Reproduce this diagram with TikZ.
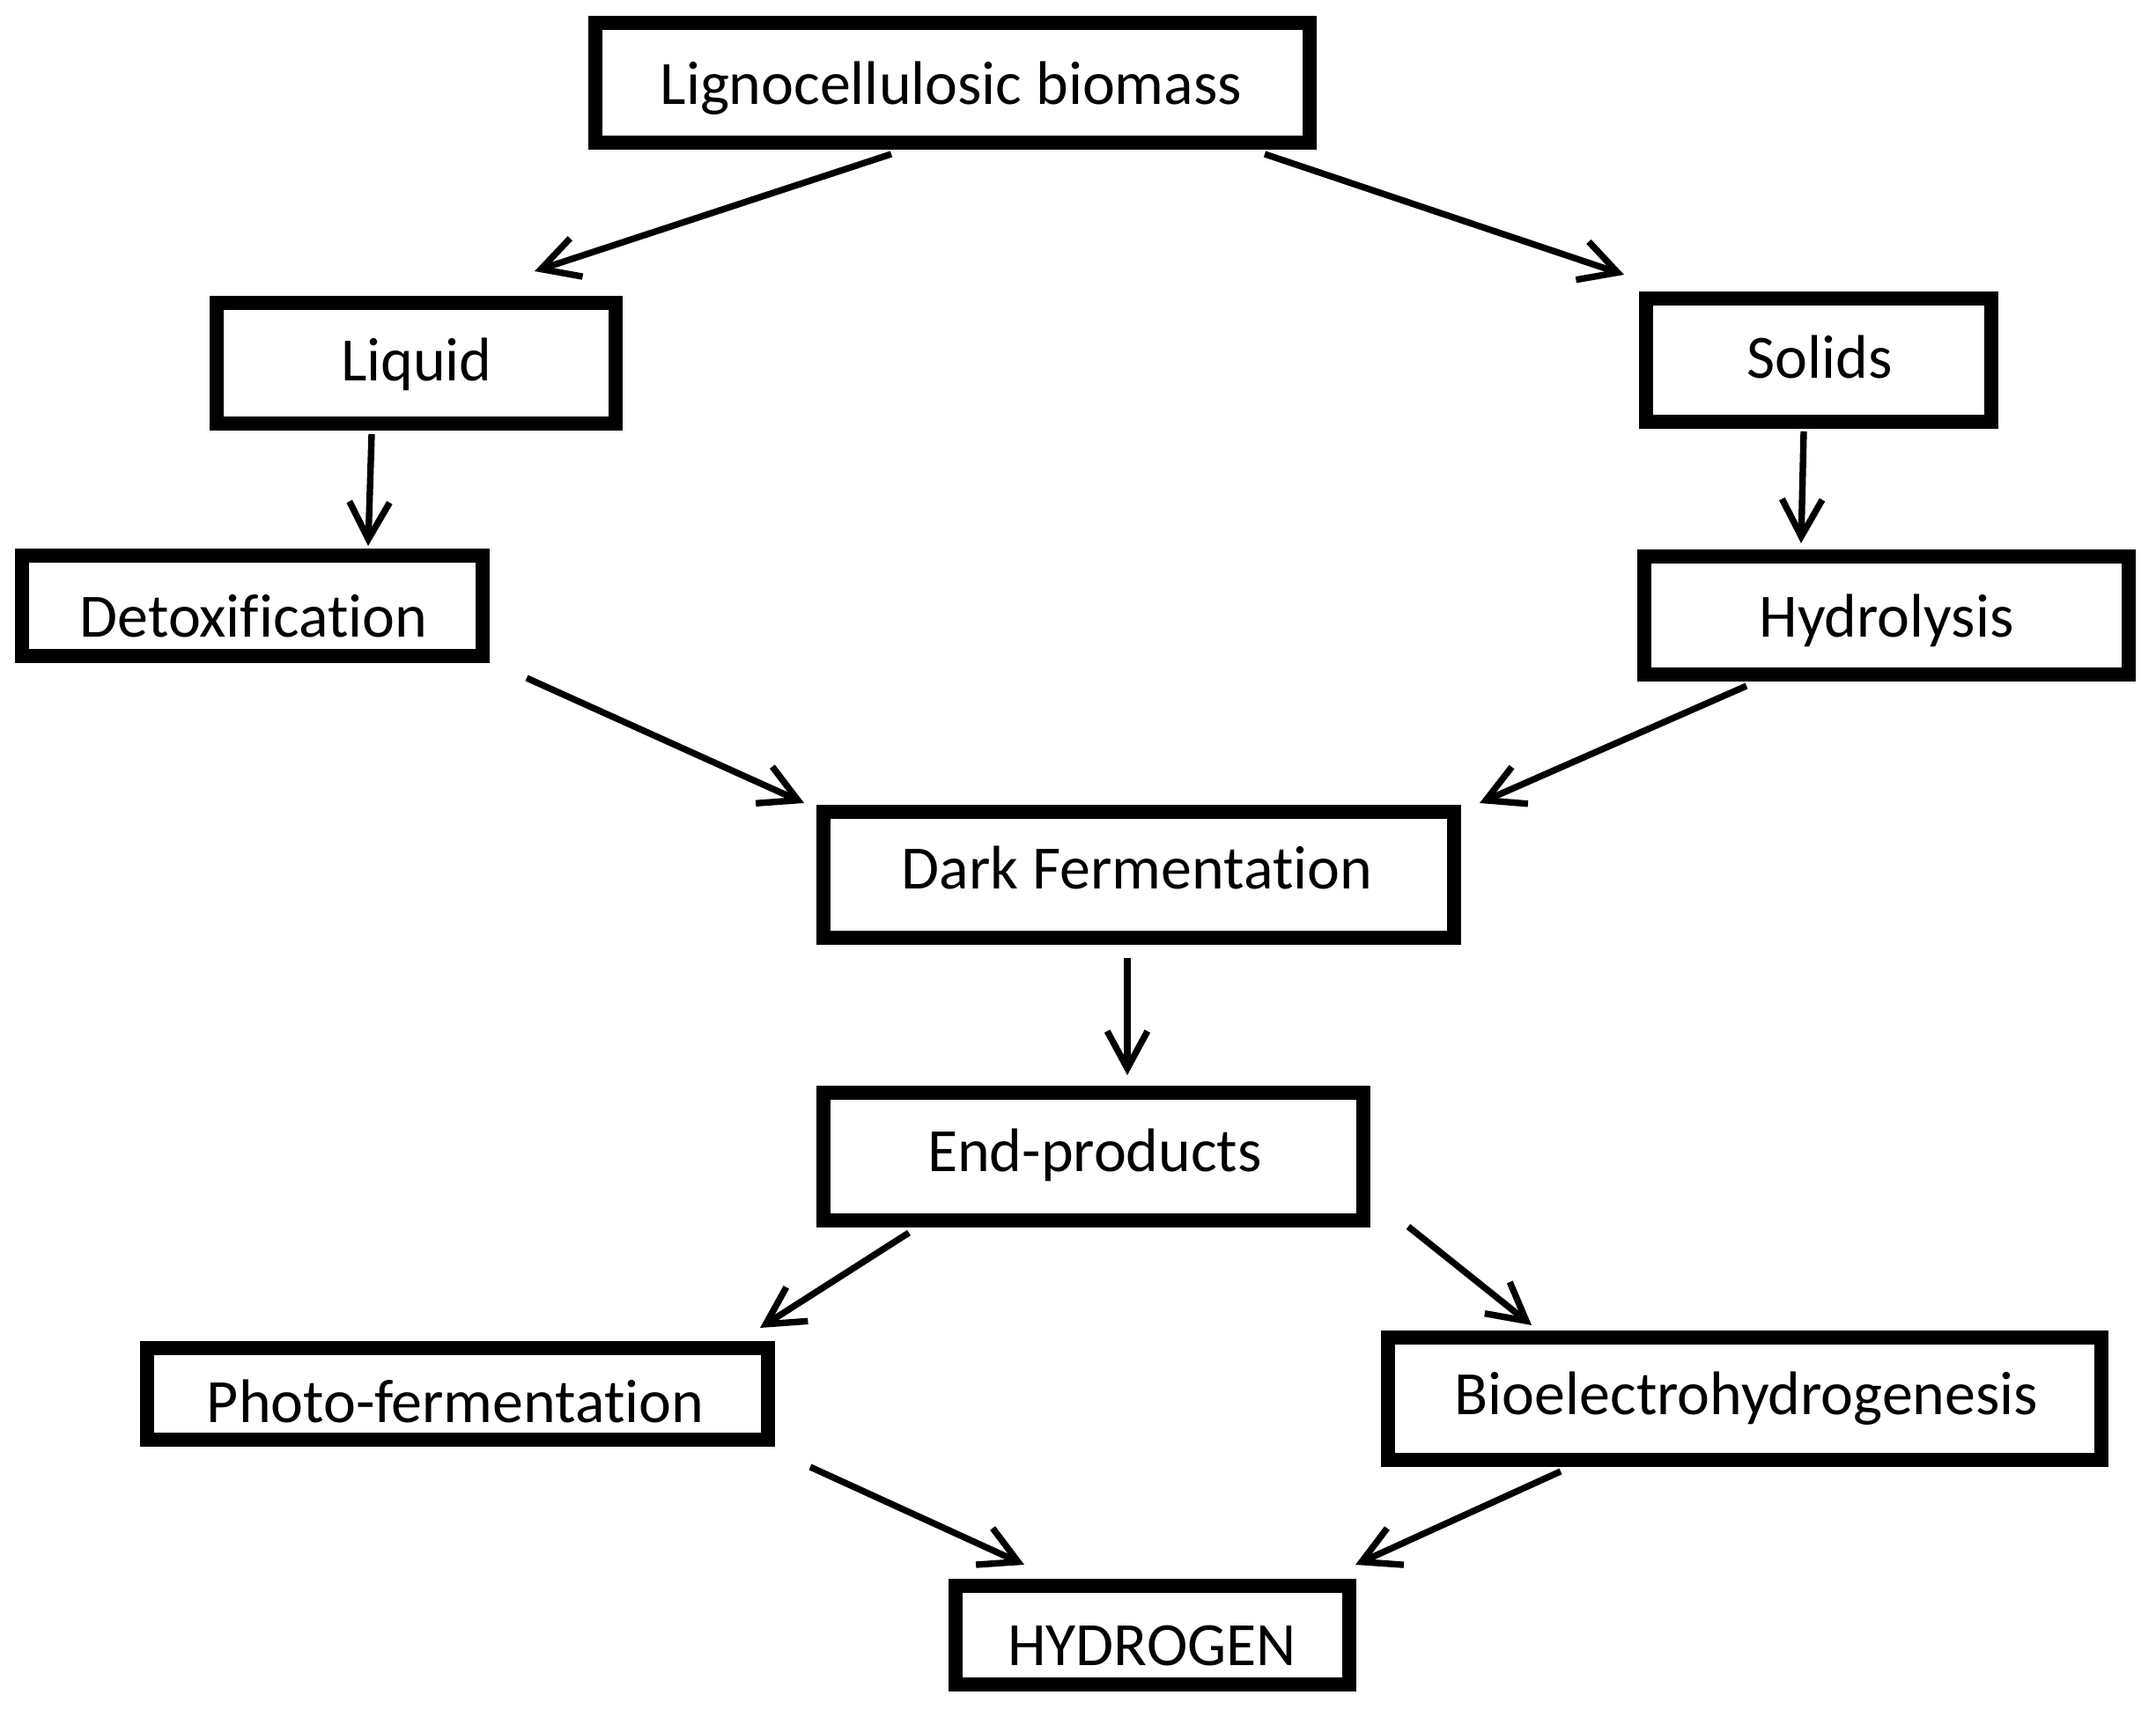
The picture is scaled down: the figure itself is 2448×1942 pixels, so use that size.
\documentclass[tikz,border=0pt]{standalone}
\usepackage{fontspec}
\setmainfont{Carlito}[Ligatures={NoCommon,NoContextual}]
\usetikzlibrary{arrows.meta}
\begin{document}
\begin{tikzpicture}[x=0.1mm,y=-0.1mm,
  box/.style={draw=black, line width=4.3pt, rectangle, inner sep=0pt, fill=white},
  lbl/.style={anchor=base, inner sep=0pt, font=\fontsize{19.9}{24}\selectfont},
  flow/.style={line width=2.1pt, -{Straight Barb[length=12pt,width=13pt]}}]
\useasboundingbox[fill=white] (0,0) rectangle (2448,1942);
% boxes
\node[box, minimum width=81.1mm, minimum height=13.6mm] (lig) at (1081.5,94) {};
\node[lbl] (ligT) at (1080,119) {Lignocellulosic biomass};
\node[box, minimum width=45.3mm, minimum height=13.7mm] (liq) at (472.5,412.5) {};
\node[lbl] (liqT) at (473,433) {Liquid};
\node[box, minimum width=39.2mm, minimum height=14.0mm] (sol) at (2065,409) {};
\node[lbl] (solT) at (2066,430) {Solids};
\node[box, minimum width=52.3mm, minimum height=11.4mm] (det) at (286.5,688) {};
\node[lbl] (detT) at (288,724) {Detoxification};
\node[box, minimum width=55.0mm, minimum height=13.4mm] (hyd) at (2142,699) {};
\node[lbl] (hydT) at (2142,724) {Hydrolysis};
\node[box, minimum width=71.6mm, minimum height=14.3mm] (dark) at (1293,993.5) {};
\node[lbl] (darkT) at (1291,1010) {Dark Fermentation};
\node[box, minimum width=61.3mm, minimum height=14.5mm] (endp) at (1241.5,1313.5) {};
\node[lbl] (endpT) at (1243,1331) {End-products};
\node[box, minimum width=70.5mm, minimum height=10.4mm] (pho) at (519.5,1583) {};
\node[lbl] (phoT) at (517,1615) {Photo-fermentation};
\node[box, minimum width=81.0mm, minimum height=13.9mm] (bio) at (1981,1588.5) {};
\node[lbl] (bioT) at (1983,1606) {Bioelectrohydrogenesis};
\node[box, minimum width=44.7mm, minimum height=11.2mm] (hy) at (1308.5,1857) {};
\node[lbl] (hyT) at (1308,1891) {HYDROGEN};
% arrow end points
\coordinate (a1s) at (1012,175);  \coordinate (a1e) at (607,308);
\coordinate (a2s) at (1436,175);  \coordinate (a2e) at (1844,312);
\coordinate (a3s) at (422,493);   \coordinate (a3e) at (418,620);
\coordinate (a4s) at (2048,490);  \coordinate (a4e) at (2045,617);
\coordinate (a5s) at (598,770);   \coordinate (a5e) at (913,912);
\coordinate (a6s) at (1983,779);  \coordinate (a6e) at (1680,912);
\coordinate (a7s) at (1280,1088); \coordinate (a7e) at (1280,1221);
\coordinate (a8s) at (1032,1400); \coordinate (a8e) at (863,1508);
\coordinate (a9s) at (1599,1393); \coordinate (a9e) at (1739,1505);
\coordinate (a10s) at (920,1666); \coordinate (a10e) at (1163,1777);
\coordinate (a11s) at (1772,1671);\coordinate (a11e) at (1539,1777);
\draw[flow] (a1s) -- (a1e);
\draw[flow] (a2s) -- (a2e);
\draw[flow] (a3s) -- (a3e);
\draw[flow] (a4s) -- (a4e);
\draw[flow] (a5s) -- (a5e);
\draw[flow] (a6s) -- (a6e);
\draw[flow] (a7s) -- (a7e);
\draw[flow] (a8s) -- (a8e);
\draw[flow] (a9s) -- (a9e);
\draw[flow] (a10s) -- (a10e);
\draw[flow] (a11s) -- (a11e);
\end{tikzpicture}
\end{document}
